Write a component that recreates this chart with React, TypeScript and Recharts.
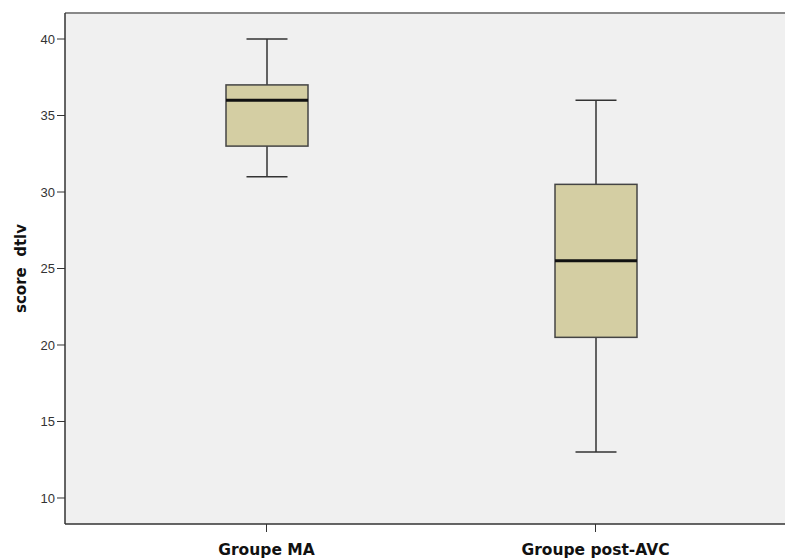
import { Bar, CartesianGrid, ComposedChart, Label, ReferenceLine, XAxis, YAxis } from 'recharts'

const categories = ['Groupe MA', 'Groupe post-AVC']
const minValues = [31, 13]
const q1Values = [33, 20.5]
const medianValues = [36, 25.5]
const q3Values = [37, 30.5]
const maxValues = [40, 36]
const yTicks = [10, 15, 20, 25, 30, 35, 40]

const data = categories.map((name, i) => ({
  name,
  min: minValues[i],
  q1: q1Values[i],
  median: medianValues[i],
  q3: q3Values[i],
  max: maxValues[i],
  range: [minValues[i], maxValues[i]],
}))

const Y_MIN = 8.3
const Y_MAX = 41.7

function BoxShape(props: any) {
  const { x, y, width, height, payload } = props
  const top = Math.min(y, y + height)
  const bottom = Math.max(y, y + height)
  const ppu = (bottom - top) / (payload.max - payload.min)
  const py = (v: number) => bottom - (v - payload.min) * ppu
  const cx = x + width / 2
  const cap = width / 2
  const stroke = '#333'
  return (
    <g>
      <line x1={cx} x2={cx} y1={py(payload.max)} y2={py(payload.q3)} stroke={stroke} strokeWidth={1.5} />
      <line x1={cx} x2={cx} y1={py(payload.q1)} y2={py(payload.min)} stroke={stroke} strokeWidth={1.5} />
      <line x1={cx - cap / 2} x2={cx + cap / 2} y1={py(payload.max)} y2={py(payload.max)} stroke={stroke} strokeWidth={1.5} />
      <line x1={cx - cap / 2} x2={cx + cap / 2} y1={py(payload.min)} y2={py(payload.min)} stroke={stroke} strokeWidth={1.5} />
      <rect
        x={x}
        y={py(payload.q3)}
        width={width}
        height={py(payload.q1) - py(payload.q3)}
        fill="#d4cea3"
        stroke="#444"
        strokeWidth={1.5}
      />
      <line x1={x} x2={x + width} y1={py(payload.median)} y2={py(payload.median)} stroke="#111" strokeWidth={3} />
    </g>
  )
}

export default function App() {
  return (
    <div
      style={{
        position: 'absolute',
        left: 0,
        top: 0,
        width: 785,
        height: 559,
        overflow: 'hidden',
        background: '#fff',
        fontFamily: '"Liberation Sans", Arial, sans-serif',
      }}
    >
      <ComposedChart width={800} height={559} data={data} margin={{ top: 13, right: 0, left: 0, bottom: 0 }}>
        <CartesianGrid horizontal={false} vertical={false} fill="#f0f0f0" stroke="none" />
        <XAxis
          dataKey="name"
          height={35}
          padding={{ left: 37, right: 40 }}
          axisLine={{ stroke: '#333', strokeWidth: 1.5 }}
          tickLine={{ stroke: '#333' }}
          tickSize={8}
          tickMargin={12}
          tick={{ fill: '#111', fontSize: 15.5, fontWeight: 'bold', fontFamily: '"DejaVu Sans", sans-serif' }}
        />
        <YAxis
          type="number"
          domain={[Y_MIN, Y_MAX]}
          ticks={yTicks}
          allowDataOverflow
          width={65}
          axisLine={{ stroke: '#333', strokeWidth: 1.5 }}
          tickLine={{ stroke: '#333' }}
          tickSize={8}
          tickMargin={2}
          tick={{ fill: '#333', fontSize: 13 }}
        >
          <Label
            value={'score\u00a0\u00a0dtlv'}
            angle={-90}
            position="center"
            dx={-12}
            style={{ fontSize: 15, fontWeight: 'bold', fill: '#111', fontFamily: '"DejaVu Sans", sans-serif' }}
          />
        </YAxis>
        <ReferenceLine y={Y_MAX} stroke="#888" strokeWidth={2} />
        <Bar dataKey="range" barSize={82} shape={<BoxShape />} isAnimationActive={false} />
      </ComposedChart>
    </div>
  )
}
